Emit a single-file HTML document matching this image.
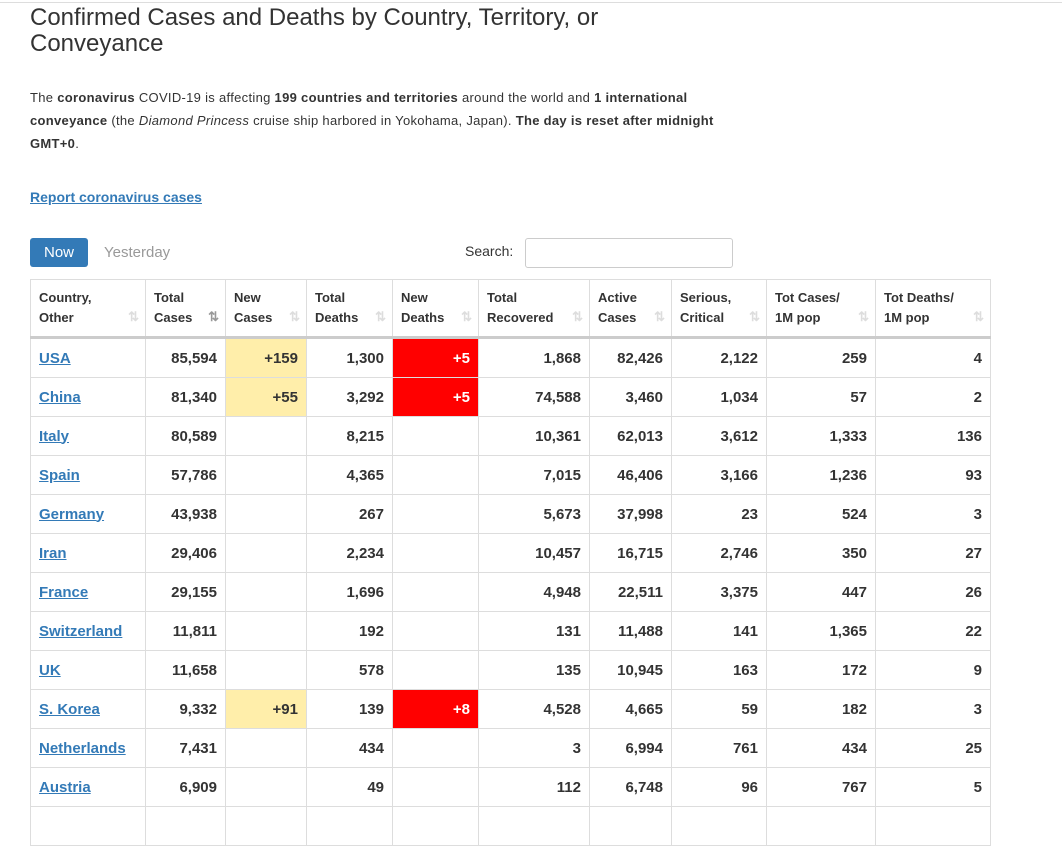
<!DOCTYPE html>
<html><head><style>
body{margin:0;width:1062px;height:812px;overflow:hidden;background:#fff;font-family:"Liberation Sans",Arial,sans-serif;color:#333;position:relative}
.topline{position:absolute;left:0;top:2px;width:1062px;height:1px;background:#ddd}
h1{position:absolute;left:30px;top:5px;margin:0;font-weight:normal;font-size:24px;line-height:26px;color:#333;width:640px}
p{position:absolute;left:30px;top:86px;margin:0;font-size:13px;letter-spacing:0.3px;line-height:23px;width:760px;white-space:nowrap}
.rep{position:absolute;left:30px;top:189px;font-size:14px;font-weight:bold;color:#337ab7;text-decoration:underline}
.now{position:absolute;left:30px;top:238px;width:58px;height:29px;background:#337ab7;color:#fff;border-radius:3px;font-size:15px;line-height:29px;text-align:center}
.yest{position:absolute;left:104px;top:244px;font-size:15px;color:#999}
.srch{position:absolute;left:465px;top:243px;font-size:14px}
.inp{position:absolute;left:525px;top:238px;width:206px;height:28px;border:1px solid #ccc;border-radius:3px}
table{position:absolute;left:30px;top:279px;border-collapse:collapse;table-layout:fixed}
th,td{border:1px solid #ddd;padding:0 8px}
th{height:56px;font-size:13px;text-align:left;vertical-align:middle;line-height:20px;position:relative;border-bottom:3px solid #ccc}
th .s{position:absolute;right:6px;bottom:9px;color:#ddd;font-size:13px}
td{height:38px;font-size:15px;font-weight:bold;text-align:right}
td:first-child{text-align:left}
td a{color:#337ab7;text-decoration:underline}
.y{background:#ffeeaa}.r{background:#f00;color:#fff}
</style></head><body>
<div class="topline"></div>
<h1>Confirmed Cases and Deaths by Country, Territory, or Conveyance</h1>
<p>The <b>coronavirus</b> COVID-19 is affecting <b>199 countries and territories</b> around the world and <b>1 international<br>conveyance</b> (the <i>Diamond Princess</i> cruise ship harbored in Yokohama, Japan). <b>The day is reset after midnight<br>GMT+0</b>.</p>
<div class="rep">Report coronavirus cases</div>
<div class="now">Now</div><div class="yest">Yesterday</div>
<div class="srch">Search:</div><div class="inp"></div>
<table>
<colgroup><col style="width:115px"><col style="width:80px"><col style="width:81px"><col style="width:86px"><col style="width:86px"><col style="width:111px"><col style="width:82px"><col style="width:95px"><col style="width:109px"><col style="width:115px"></colgroup>
<tr><th>Country,<br>Other<span class="s">⇅</span></th><th>Total<br>Cases<span class="s" style="color:#999">⇅</span></th><th>New<br>Cases<span class="s">⇅</span></th><th>Total<br>Deaths<span class="s">⇅</span></th><th>New<br>Deaths<span class="s">⇅</span></th><th>Total<br>Recovered<span class="s">⇅</span></th><th>Active<br>Cases<span class="s">⇅</span></th><th>Serious,<br>Critical<span class="s">⇅</span></th><th>Tot Cases/<br>1M pop<span class="s">⇅</span></th><th>Tot Deaths/<br>1M pop<span class="s">⇅</span></th></tr>
<tr><td><a>USA</a></td><td>85,594</td><td class="y">+159</td><td>1,300</td><td class="r">+5</td><td>1,868</td><td>82,426</td><td>2,122</td><td>259</td><td>4</td></tr>
<tr><td><a>China</a></td><td>81,340</td><td class="y">+55</td><td>3,292</td><td class="r">+5</td><td>74,588</td><td>3,460</td><td>1,034</td><td>57</td><td>2</td></tr>
<tr><td><a>Italy</a></td><td>80,589</td><td></td><td>8,215</td><td></td><td>10,361</td><td>62,013</td><td>3,612</td><td>1,333</td><td>136</td></tr>
<tr><td><a>Spain</a></td><td>57,786</td><td></td><td>4,365</td><td></td><td>7,015</td><td>46,406</td><td>3,166</td><td>1,236</td><td>93</td></tr>
<tr><td><a>Germany</a></td><td>43,938</td><td></td><td>267</td><td></td><td>5,673</td><td>37,998</td><td>23</td><td>524</td><td>3</td></tr>
<tr><td><a>Iran</a></td><td>29,406</td><td></td><td>2,234</td><td></td><td>10,457</td><td>16,715</td><td>2,746</td><td>350</td><td>27</td></tr>
<tr><td><a>France</a></td><td>29,155</td><td></td><td>1,696</td><td></td><td>4,948</td><td>22,511</td><td>3,375</td><td>447</td><td>26</td></tr>
<tr><td><a>Switzerland</a></td><td>11,811</td><td></td><td>192</td><td></td><td>131</td><td>11,488</td><td>141</td><td>1,365</td><td>22</td></tr>
<tr><td><a>UK</a></td><td>11,658</td><td></td><td>578</td><td></td><td>135</td><td>10,945</td><td>163</td><td>172</td><td>9</td></tr>
<tr><td><a>S. Korea</a></td><td>9,332</td><td class="y">+91</td><td>139</td><td class="r">+8</td><td>4,528</td><td>4,665</td><td>59</td><td>182</td><td>3</td></tr>
<tr><td><a>Netherlands</a></td><td>7,431</td><td></td><td>434</td><td></td><td>3</td><td>6,994</td><td>761</td><td>434</td><td>25</td></tr>
<tr><td><a>Austria</a></td><td>6,909</td><td></td><td>49</td><td></td><td>112</td><td>6,748</td><td>96</td><td>767</td><td>5</td></tr>
<tr><td></td><td></td><td></td><td></td><td></td><td></td><td></td><td></td><td></td><td></td></tr>
</table>
</body></html>
